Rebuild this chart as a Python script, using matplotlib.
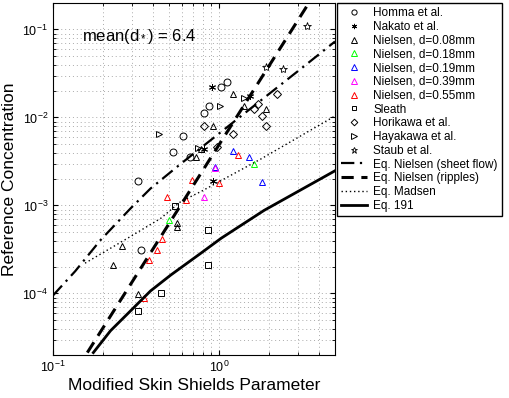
import matplotlib
matplotlib.use("Agg")
import matplotlib.pyplot as plt

plt.rcParams["font.family"] = ["Liberation Sans", "DejaVu Sans"]
plt.rcParams["mathtext.fontset"] = "custom"
plt.rcParams["mathtext.rm"] = "Liberation Sans"
plt.rcParams["mathtext.it"] = "Liberation Sans:italic"
plt.rcParams["mathtext.bf"] = "Liberation Sans:bold"

homma_x = [0.323, 0.341, 0.526, 0.605, 0.667, 0.811, 0.870, 1.03, 1.12]
homma_y = [0.00191, 0.00031, 0.00407, 0.00618, 0.00358, 0.0112, 0.0135, 0.0221, 0.0252]

nakato_x = [0.907, 0.920, 0.811, 1.54]
nakato_y = [0.0221, 0.00191, 0.00441, 0.0175]

niel008_x = [1.22, 1.42, 1.93, 0.92, 0.726, 0.778, 0.262, 0.231, 0.323, 0.556, 0.556]
niel008_y = [0.0185, 0.0135, 0.0125, 0.0080, 0.00358, 0.00441, 0.000344, 0.00021,
             0.0000987, 0.000564, 0.000627]

niel018_x = [1.63, 0.498]
niel018_y = [0.00298, 0.000678]

niel019_x = [1.22, 1.52, 1.82, 0.946]
niel019_y = [0.00418, 0.00358, 0.00187, 0.00276]

niel039_x = [0.811, 0.946]
niel039_y = [0.00126, 0.00269]

niel055_x = [0.351, 0.377, 0.421, 0.451, 0.484, 0.631, 0.686, 1.0, 1.30]
niel055_y = [0.0000889, 0.000239, 0.00031, 0.000413, 0.00126, 0.00114, 0.00197,
             0.00182, 0.00377]

sleath_x = [0.445, 0.323, 0.857, 0.857, 0.541]
sleath_y = [0.000101, 0.0000634, 0.000522, 0.00021, 0.000975]

horikawa_x = [0.811, 0.973, 1.22, 1.63, 1.72, 1.82, 1.93, 2.25]
horikawa_y = [0.0080, 0.00464, 0.0065, 0.0125, 0.0142, 0.0104, 0.0080, 0.0185]

hayakawa_x = [0.433, 0.746, 1.01, 1.42]
hayakawa_y = [0.0065, 0.00452, 0.0135, 0.0166]

staub_x = [3.37, 2.44, 1.93]
staub_y = [0.111, 0.0353, 0.0373]

# --- model curves ---
sheet_x = [0.1, 0.136, 0.193, 0.293, 0.387, 0.589, 1.03, 1.80, 3.14, 5.0]
sheet_y = [9.5e-5, 1.79e-4, 4.03e-4, 9.25e-4, 1.56e-3, 2.98e-3, 6.86e-3, 0.0158, 0.0362, 0.073]

ripple_x = [0.161, 3.37]
ripple_y = [2.13e-5, 0.182]

madsen_x = [0.156, 0.281, 0.445, 0.589, 0.778, 1.80, 5.0]
madsen_y = [2.21e-4, 4.24e-4, 7.13e-4, 1.11e-3, 1.44e-3, 3.4e-3, 0.0104]

eq191_x = [0.175, 0.222, 0.293, 0.387, 0.512, 0.778, 1.03, 1.87, 5.0]
eq191_y = [2.13e-5, 3.77e-5, 6.34e-5, 1.07e-4, 1.62e-4, 2.87e-4, 4.24e-4, 8.8e-4, 2.48e-3]

fig = plt.figure(figsize=(5.09, 3.98), dpi=100)
ax = fig.add_axes([53 / 509, 43 / 398, 282 / 509, 352 / 398])

ms = 5
open_kw = dict(linestyle="none", markerfacecolor="none", markersize=ms, markeredgewidth=0.7)
ax.plot(homma_x, homma_y, "o", color="k", label="Homma et al.", **open_kw)
ax.plot(nakato_x, nakato_y, marker=(6, 2, 0), color="k", label="Nakato et al.", **open_kw)
ax.plot(niel008_x, niel008_y, "^", color="k", label="Nielsen, d=0.08mm", **open_kw)
ax.plot(niel018_x, niel018_y, "^", color="#00ff00", label="Nielsen, d=0.18mm", **open_kw)
ax.plot(niel019_x, niel019_y, "^", color="#0000ff", label="Nielsen, d=0.19mm", **open_kw)
ax.plot(niel039_x, niel039_y, "^", color="#ff00ff", label="Nielsen, d=0.39mm", **open_kw)
ax.plot(niel055_x, niel055_y, "^", color="#ff0000", label="Nielsen, d=0.55mm", **open_kw)
ax.plot(sleath_x, sleath_y, "s", color="k", label="Sleath",
        linestyle="none", markerfacecolor="none", markersize=4, markeredgewidth=0.7)
ax.plot(horikawa_x, horikawa_y, "D", color="k", label="Horikawa et al.",
        linestyle="none", markerfacecolor="none", markersize=4.5, markeredgewidth=0.7)
ax.plot(hayakawa_x, hayakawa_y, ">", color="k", label="Hayakawa et al.", **open_kw)
ax.plot(staub_x, staub_y, "*", color="k", label="Staub et al.",
        linestyle="none", markerfacecolor="none", markersize=6, markeredgewidth=0.6)

ax.plot(sheet_x, sheet_y, color="k", lw=1.6, linestyle=(0, (6, 2.5, 1, 2.5)),
        label="Eq. Nielsen (sheet flow)")
ax.plot(ripple_x, ripple_y, color="k", lw=2.2, linestyle=(0, (4, 2.5)),
        label="Eq. Nielsen (ripples)")
ax.plot(madsen_x, madsen_y, color="k", lw=1.0, linestyle=(0, (1, 2)),
        label="Eq. Madsen")
ax.plot(eq191_x, eq191_y, color="k", lw=2.0, label="Eq. 191")

ax.set_xscale("log")
ax.set_yscale("log")
ax.set_xlim(0.1, 5)
ax.set_ylim(2e-5, 0.2)
ax.grid(True, which="both", color="#aaaaaa", linestyle=(0, (1, 3)), linewidth=0.7)
ax.tick_params(which="both", direction="in", top=True, right=True, labelsize=9)
ax.set_xlabel("Modified Skin Shields Parameter", fontsize=12.5, labelpad=2)
ax.set_ylabel("Reference Concentration", fontsize=12.5, labelpad=4)
ax.text(0.15, 0.083, r"mean(d$_*$) = 6.4", fontsize=12, va="center")

fig.legend(loc="upper left", bbox_to_anchor=(337 / 509, 1 - 3 / 398), fontsize=8.5,
           frameon=True, fancybox=False, edgecolor="k", framealpha=1, markerscale=0.75,
           labelspacing=0.15, handlelength=2.2, handletextpad=0.5, borderpad=0.35,
           borderaxespad=0)

fig.savefig("out.png", dpi=100)
